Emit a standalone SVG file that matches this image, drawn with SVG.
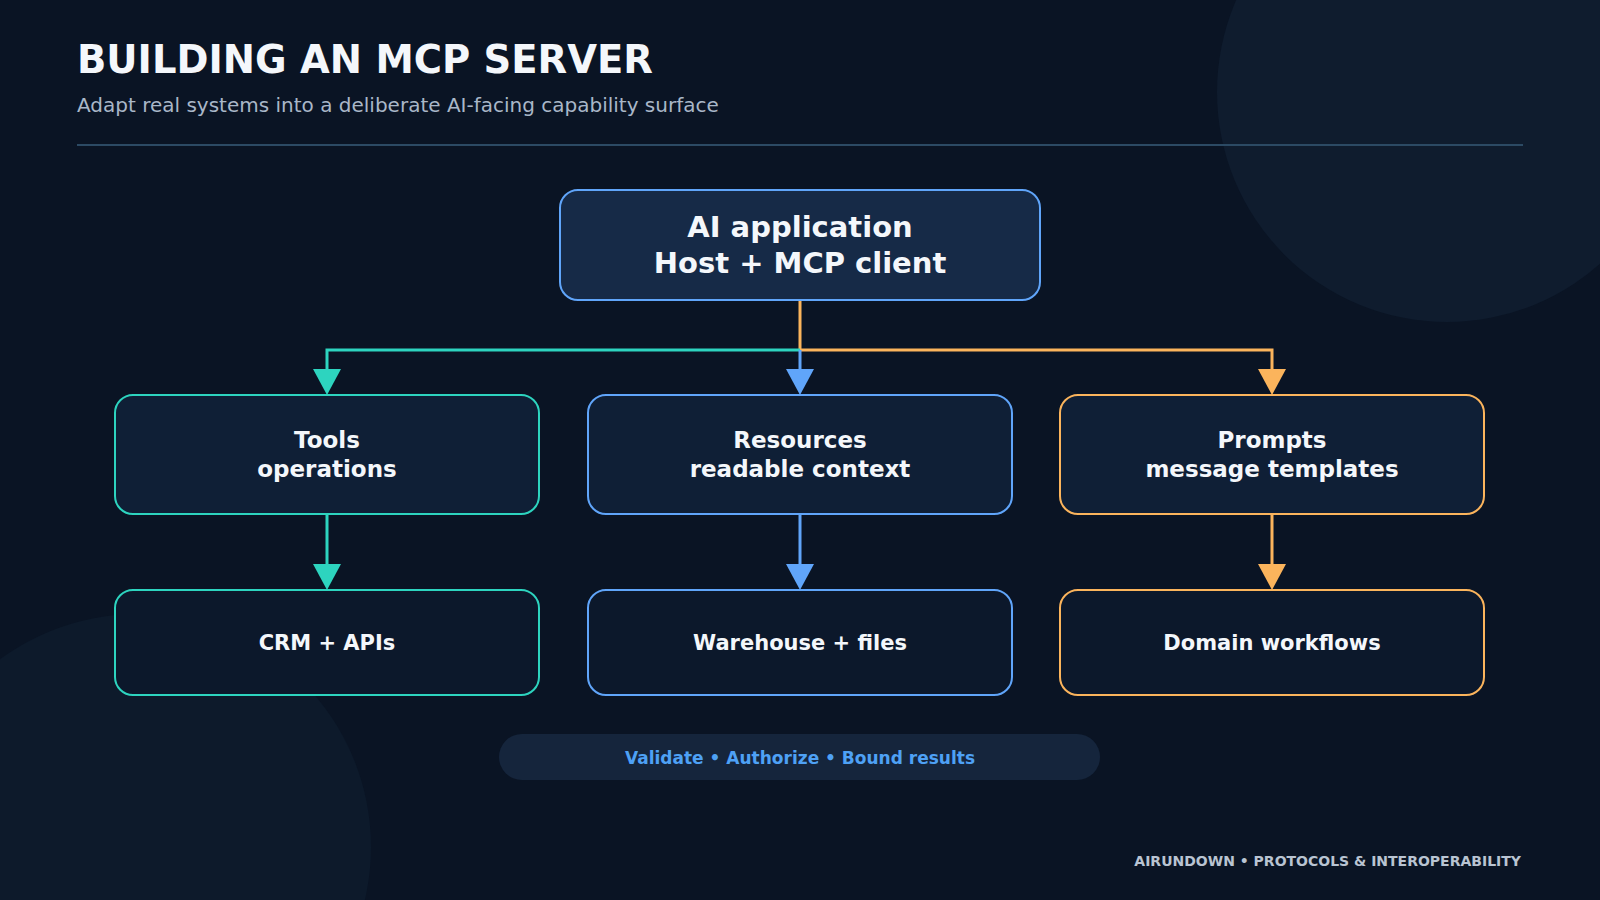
<svg xmlns="http://www.w3.org/2000/svg" width="1600" height="900" viewBox="0 0 1600 900">
<style>
text{font-family:"DejaVu Sans","Noto Sans",sans-serif;font-weight:bold;fill:#f4f7fb;text-anchor:middle}
.box{stroke-width:2}
.t{stroke:#2dd4bf}.b{stroke:#60a5fa}.o{stroke:#fbb45c}
.c{fill:none;stroke-width:3}
</style>
<rect width="1600" height="900" fill="#0a1424"/>
<circle cx="1447" cy="92" r="230" fill="#0f1c2e"/>
<circle cx="138" cy="847" r="233" fill="#0d1a2b"/>
<text x="77" y="73" style="font-size:38.5px;text-anchor:start">BUILDING AN MCP SERVER</text>
<text x="77" y="112" style="font-size:20px;font-weight:normal;fill:#a9b7c8;text-anchor:start">Adapt real systems into a deliberate AI-facing capability surface</text>
<line x1="77" y1="145" x2="1523" y2="145" stroke="#2c4a64" stroke-width="2"/>
<g id="connectors">
<path class="c" d="M800,300 V350" stroke="#fbb45c"/>
<path class="c" d="M800,350 H327 V372" stroke="#2dd4bf"/>
<path class="c" d="M800,350 H1272 V372" stroke="#fbb45c"/>
<path class="c" d="M800,350 V372" stroke="#60a5fa"/>
<path d="M313,369 L341,369 L327,395Z" fill="#2dd4bf"/>
<path d="M786,369 L814,369 L800,395Z" fill="#60a5fa"/>
<path d="M1258,369 L1286,369 L1272,395Z" fill="#fbb45c"/>
<path class="c" d="M327,514 V566" stroke="#2dd4bf"/>
<path class="c" d="M800,514 V566" stroke="#60a5fa"/>
<path class="c" d="M1272,514 V566" stroke="#fbb45c"/>
<path d="M313,564 L341,564 L327,590Z" fill="#2dd4bf"/>
<path d="M786,564 L814,564 L800,590Z" fill="#60a5fa"/>
<path d="M1258,564 L1286,564 L1272,590Z" fill="#fbb45c"/>
</g>
<g id="host"><rect class="box b" x="560" y="190" width="480" height="110" rx="18" fill="#162a47"/>
<text x="800" y="237" style="font-size:29px">AI application</text><text x="800" y="273" style="font-size:29px">Host + MCP client</text></g>
<g id="tools"><rect class="box t" x="115" y="395" width="424" height="119" rx="18" fill="#0f1f36"/>
<text x="327" y="448" style="font-size:23px">Tools</text><text x="327" y="477" style="font-size:23px">operations</text></g>
<g id="resources"><rect class="box b" x="588" y="395" width="424" height="119" rx="18" fill="#0f1f36"/>
<text x="800" y="448" style="font-size:23px">Resources</text><text x="800" y="477" style="font-size:23px">readable context</text></g>
<g id="prompts"><rect class="box o" x="1060" y="395" width="424" height="119" rx="18" fill="#0f1f36"/>
<text x="1272" y="448" style="font-size:23px">Prompts</text><text x="1272" y="477" style="font-size:23px">message templates</text></g>
<g id="crm"><rect class="box t" x="115" y="590" width="424" height="105" rx="18" fill="#0c182b"/>
<text x="327" y="650" style="font-size:21px">CRM + APIs</text></g>
<g id="warehouse"><rect class="box b" x="588" y="590" width="424" height="105" rx="18" fill="#0c182b"/>
<text x="800" y="650" style="font-size:21px">Warehouse + files</text></g>
<g id="workflows"><rect class="box o" x="1060" y="590" width="424" height="105" rx="18" fill="#0c182b"/>
<text x="1272" y="650" style="font-size:21px">Domain workflows</text></g>
<g id="pill"><rect x="499" y="734" width="601" height="46" rx="23" fill="#15253c"/>
<text x="800" y="764" style="font-size:17px;fill:#4ea1f5">Validate • Authorize • Bound results</text></g>
<text x="1521" y="866" style="font-size:14px;fill:#b9c4d2;text-anchor:end">AIRUNDOWN • PROTOCOLS &amp; INTEROPERABILITY</text>
</svg>
